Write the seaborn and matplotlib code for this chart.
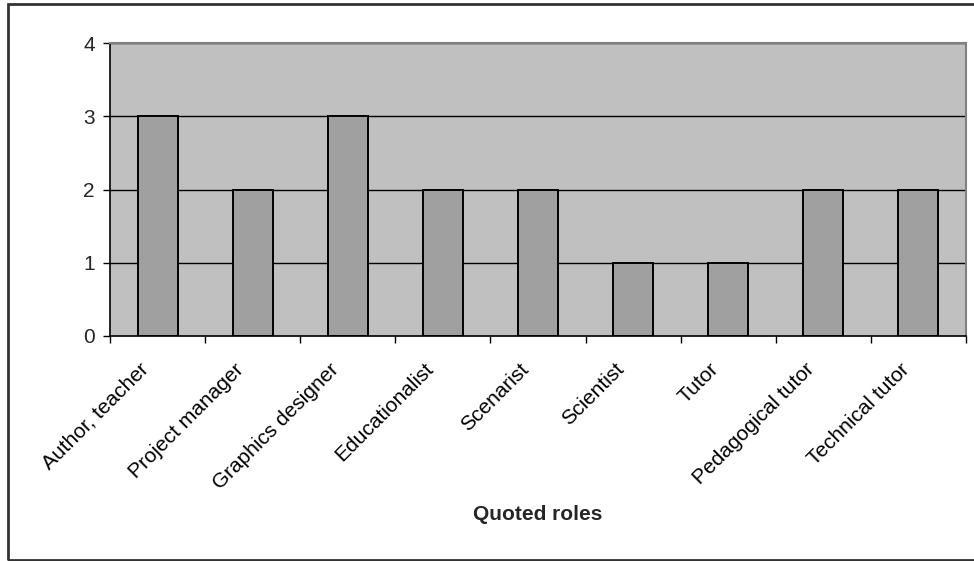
import matplotlib
matplotlib.use("Agg")
import matplotlib.pyplot as plt
import matplotlib.transforms as mtransforms
import seaborn as sns
import pandas as pd
import numpy as np
from matplotlib.patches import Rectangle

roles = ["Author, teacher", "Project manager", "Graphics designer", "Educationalist",
         "Scenarist", "Scientist", "Tutor", "Pedagogical tutor", "Technical tutor"]
counts = [3, 2, 3, 2, 2, 1, 1, 2, 2]
y_ticks = [0, 1, 2, 3, 4]

sns.set_theme(style="white")
plt.rcParams["font.family"] = ["Liberation Sans", "DejaVu Sans"]

df = pd.DataFrame({"role": roles, "count": counts})

W, H = 974, 561
fig = plt.figure(figsize=(W / 100, H / 100), dpi=100)
ax_bottom, ax_top = 335.7, 43.3
ax = fig.add_axes([110 / W, 1 - ax_bottom / H, 856 / W, (ax_bottom - ax_top) / H])
ax.set_facecolor("#c0c0c0")

sns.barplot(data=df, x="role", y="count", ax=ax, color="#a0a0a0",
            width=0.42, edgecolor="black", linewidth=1.4, saturation=1, zorder=3)

ax.set_xlim(-0.5, len(roles) - 0.5)
ax.set_ylim(0, 4)
ax.set_yticks(y_ticks)
ax.set_yticklabels([str(v) for v in y_ticks], fontsize=15)
for v in y_ticks[1:]:
    ax.axhline(v, color="black", linewidth=1, zorder=1)

# tick marks sit on category boundaries; the rotated names hang below each bar
ax.set_xticks(np.arange(-0.5, len(roles), 1.0))
ax.set_xticklabels([])
ax.tick_params(axis="x", length=5, width=1, color="black", direction="out", bottom=True)
ax.tick_params(axis="y", length=5, width=1, color="black", direction="out", left=True, pad=6)

shift = mtransforms.ScaledTranslation(-19 / 100, -24 / 100, fig.dpi_scale_trans)
for i, name in enumerate(roles):
    ax.text(i, 0, name, transform=ax.get_xaxis_transform() + shift,
            rotation=45, rotation_mode="anchor", ha="right", va="top",
            fontsize=15, color="black")

ax.set_xlabel("Quoted roles", fontsize=15, fontweight="bold")
ax.xaxis.set_label_coords(0.5, (ax_bottom - 515) / (ax_bottom - ax_top))
ax.xaxis.label.set_va("center")
ax.set_ylabel("")

for side in ["left", "bottom"]:
    ax.spines[side].set_color("black")
    ax.spines[side].set_linewidth(1.2)
for side in ["top", "right"]:
    ax.spines[side].set_color("#808080")
    ax.spines[side].set_linewidth(1.5)

# outer frame of the chart
fig.patches.append(Rectangle((8 / W, 1 - 560 / H), 1.0, (560 - 3.5) / H,
                             transform=fig.transFigure, fill=False,
                             edgecolor="#333333", linewidth=2, zorder=0))

fig.savefig("out.png", dpi=100)
